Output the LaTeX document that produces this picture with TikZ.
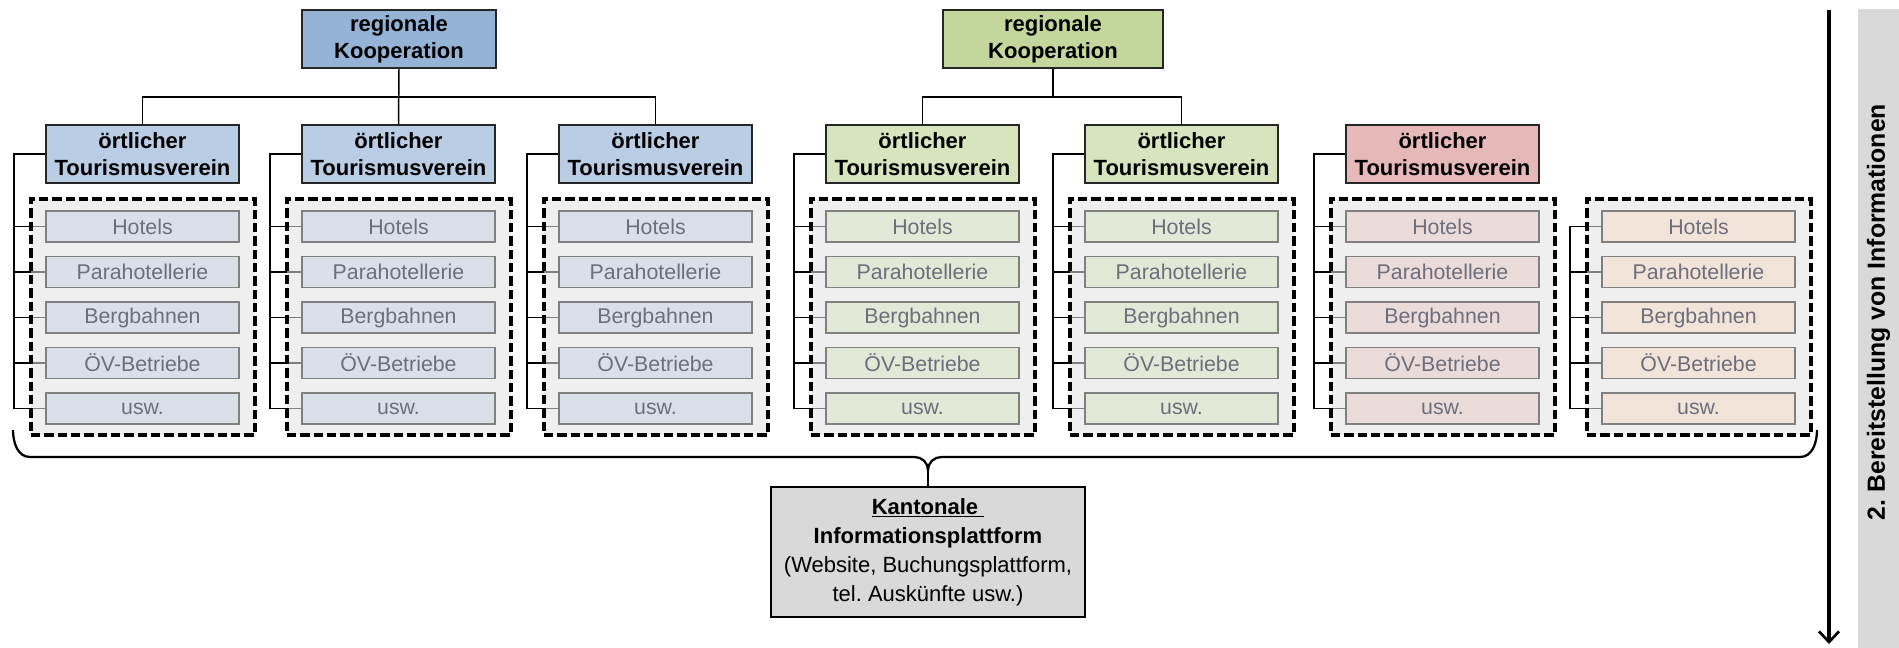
\documentclass[tikz,border=0pt]{standalone}
\usepackage{fontspec}
\setmainfont{Liberation Sans}
\usetikzlibrary{arrows.meta}
\frenchspacing
\pgfdeclarelayer{bg}
\pgfdeclarelayer{mid}
\pgfsetlayers{bg,mid,main}
\definecolor{regblue}{HTML}{95B3D7}
\definecolor{tvblue}{HTML}{B9CDE5}
\definecolor{inblue}{HTML}{D9E0EA}
\definecolor{reggreen}{HTML}{C3D69B}
\definecolor{tvgreen}{HTML}{D7E4BD}
\definecolor{ingreen}{HTML}{E2E9D6}
\definecolor{tvred}{HTML}{E6B9B8}
\definecolor{inred}{HTML}{EBDCDB}
\definecolor{inpeach}{HTML}{F2E4D9}
\definecolor{intext}{HTML}{6E6E7C}
\definecolor{kantfill}{HTML}{D9D9D9}
\definecolor{barfill}{HTML}{D9D9D9}
\definecolor{inborder}{HTML}{808080}
\begin{document}
\begin{tikzpicture}[x=0.75pt,y=-0.75pt,
 every node/.style={inner sep=0pt, outer sep=0pt},
 regbox/.style={draw=black!85, line width=1.1pt, anchor=north west, minimum height=43.5pt, align=center, font=\bfseries\fontsize{16.5}{20.5}\selectfont},
 tvbox/.style={regbox, minimum width=144.75pt},
 inbox/.style={draw=inborder, line width=0.9pt, anchor=north west, minimum width=144.75pt, minimum height=23.25pt, text=intext, font=\fontsize{16}{19}\selectfont},
 dashbox/.style={draw=black, line width=2.3pt, dash pattern=on 7pt off 3pt, fill=black!11, fill opacity=0.56, anchor=north west, minimum width=168pt, minimum height=177pt},
 link/.style={draw=black, line width=1.1pt},
 brace/.style={line width=1.7pt},
]
\path[use as bounding box] (0,0) rectangle (1899,648);

% regional cooperations
\node[regbox, fill=regblue, minimum width=145.5pt] (rb) at (302,10) {regionale\\Kooperation};
\node[regbox, fill=reggreen, minimum width=165pt] (rg) at (943,10) {regionale\\Kooperation};

% local tourism associations
\node[tvbox, fill=tvblue] (tv1) at (46,125) {örtlicher\\Tourismusverein};
\node[tvbox, fill=tvblue] (tv2) at (302,125) {örtlicher\\Tourismusverein};
\node[tvbox, fill=tvblue] (tv3) at (559,125) {örtlicher\\Tourismusverein};
\node[tvbox, fill=tvgreen] (tv4) at (826,125) {örtlicher\\Tourismusverein};
\node[tvbox, fill=tvgreen] (tv5) at (1085,125) {örtlicher\\Tourismusverein};
\node[tvbox, fill=tvred] (tv6) at (1346,125) {örtlicher\\Tourismusverein};

% member groups
\foreach \L/\cc/\col in {46/inblue/1, 302/inblue/2, 559/inblue/3, 826/ingreen/4, 1085/ingreen/5, 1346/inred/6, 1602/inpeach/7} {
  \begin{pgfonlayer}{mid}
    \node[dashbox] (d\col) at (\L-15,199) {};
  \end{pgfonlayer}
  \coordinate (v\col) at (\L-32,0);
  \foreach \t/\yy/\row in {Hotels/211/1, Parahotellerie/256.5/2, Bergbahnen/302/3, ÖV-Betriebe/347.5/4, usw./393/5} {
    \node[inbox, fill=\cc] (c\col r\row) at (\L,\yy) {\t};
  }
}

% connectors
\begin{pgfonlayer}{bg}
\foreach \col in {1,...,6} {
  \draw[link] (tv\col.west) -| (c\col r5.west -| v\col) -- (c\col r5.west);
  \foreach \row in {1,...,4} \draw[link] (c\col r\row.west -| v\col) -- (c\col r\row.west);
}
\draw[link] (c7r1.west -| v7) -- (c7r5.west -| v7) -- (c7r5.west);
\foreach \row in {1,...,4} \draw[link] (c7r\row.west -| v7) -- (c7r\row.west);
\draw[link] (tv1.north) -- ++(0,-28) -| (tv3.north);
\draw[link] (rb.south) -- (tv2.north);
\draw[link] (tv4.north) -- ++(0,-28) -| (tv5.north);
\draw[link] (rg.south) -- ++(0,29);
\end{pgfonlayer}

% cantonal platform
\node[draw=black, line width=2.2pt, fill=kantfill, anchor=north west, minimum width=235.5pt, minimum height=97.5pt, align=center, font=\fontsize{16.5}{21.75}\selectfont] (kant) at (771,487)
  {\textbf{\underline{Kantonale\ }}\\\textbf{Informationsplattform}\\(Website, Buchungsplattform,\\tel. Auskünfte usw.)};

% brace
\coordinate (bL) at (13,430);
\coordinate (bR) at (1817,430);
\coordinate (bl2) at (30,457);
\coordinate (br2) at (1800,457);
\coordinate (tip) at (kant.north |- 0,470);
\coordinate (bm1) at ([xshift=-10pt]tip |- 0,457);
\coordinate (bm2) at ([xshift=10pt]tip |- 0,457);
\draw[brace] (bL) to[out=-90,in=180] (bl2) -- (bm1) to[out=0,in=90] (tip) to[out=90,in=180] (bm2) -- (br2) to[out=0,in=-90] (bR);
\draw[brace] (tip) -- (kant.north);

% arrow and side label
\coordinate (aS) at (1829,10);
\coordinate (aE) at (1829,644);
\draw[line width=2.4pt, -{Straight Barb[length=8pt,width=15pt,line width=2pt]}] (aS) -- (aE);
\node[fill=barfill, anchor=north west, minimum width=30.75pt, minimum height=479.25pt] (bar) at (1858,9) {};
\node[rotate=90, font=\bfseries\fontsize{18.6}{22}\selectfont] (side) at (1878.5,312) {2. Bereitstellung von Informationen};
\end{tikzpicture}
\end{document}
